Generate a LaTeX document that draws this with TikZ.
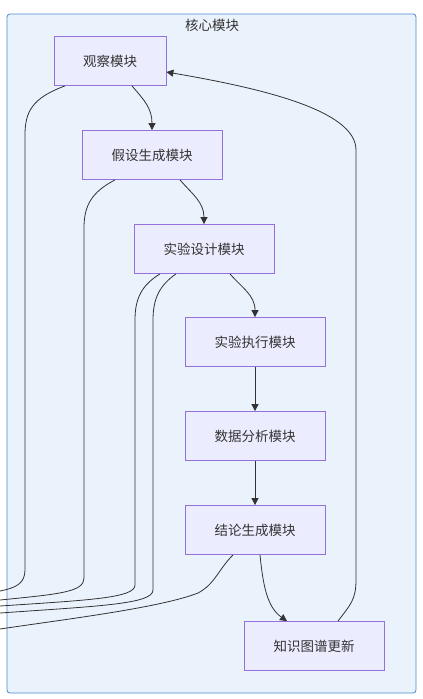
\documentclass[tikz,border=0pt]{standalone}
\usepackage{fontspec}
\setmainfont{Noto Sans CJK SC}
\usepackage{tikz}
\usetikzlibrary{arrows.meta}

\definecolor{clusterfill}{RGB}{234,242,251}
\definecolor{clusterdraw}{RGB}{74,138,207}
\definecolor{boxfill}{RGB}{236,236,255}
\definecolor{boxdraw}{RGB}{147,112,219}
\definecolor{textgray}{RGB}{51,51,51}

\tikzset{
  module/.style={draw=boxdraw, fill=boxfill, line width=0.8pt, minimum width=140pt,
    minimum height=49pt, inner sep=0pt, text=textgray, font=\fontsize{13.5}{16}\selectfont},
  edge/.style={draw=textgray, line width=0.8pt, -{Triangle[length=7pt,width=7pt]}},
  exitline/.style={draw=textgray, line width=0.8pt}
}

\begin{document}
\begin{tikzpicture}[x=1pt, y=-1pt]
\useasboundingbox (0,0) rectangle (423,699);

% Cluster: core modules
\filldraw[fill=clusterfill, draw=clusterdraw, line width=0.8pt, rounded corners=3pt] (7,14) rectangle (416,693);
\node[text=textgray, font=\fontsize{13.5}{16}\selectfont] (title) at (212,25) {核心模块};

% Modules
\node[module, minimum width=112pt] (obs) at (110,61) {观察模块};
\node[module] (hyp) at (152,155) {假设生成模块};
\node[module] (design) at (204,249) {实验设计模块};
\node[module] (run) at (255,342) {实验执行模块};
\node[module] (data) at (255,436) {数据分析模块};
\node[module] (concl) at (255,530) {结论生成模块};
\node[module] (kg) at (314,646) {知识图谱更新};

% Main chain
\draw[edge] ([xshift=22pt]obs.south) .. controls +(12,14) and +(0,-22) .. (hyp.north);
\draw[edge] ([xshift=28pt]hyp.south) .. controls +(12,14) and +(0,-22) .. (design.north);
\draw[edge] ([xshift=26pt]design.south) .. controls +(12,14) and +(0,-22) .. (run.north);
\draw[edge] (run) -- (data);
\draw[edge] (data) -- (concl);
\draw[edge] ([xshift=5pt]concl.south) .. controls +(3,30) and +(-20,-14) .. ([xshift=-27pt]kg.north);

% Feedback to observation
\draw[edge] ([xshift=24pt]kg.north) .. controls +(12,-16) and +(0,20) .. (356,580)
  -- (356,150) .. controls (356,110) and (260,88) .. (obs.east |- 0,72);

% Lines leaving the cluster
\coordinate (out1) at (0,591);
\coordinate (out2) at (0,600);
\coordinate (out3) at (0,606);
\coordinate (out4) at (0,613);
\coordinate (out5) at (0,629);
\draw[exitline] ([xshift=-45pt]obs.south) .. controls (32,98) and (25,112) .. (25,135)
  -- (25,570) .. controls (25,584) and (15,588) .. (out1);
\draw[exitline] ([xshift=-37pt]hyp.south) .. controls (92,192) and (84,205) .. (84,228)
  -- (84,578) .. controls (84,592) and (60,594) .. (out2);
\draw[exitline] ([xshift=-44pt]design.south) .. controls (142,285) and (135,298) .. (135,320)
  -- (135,585) .. controls (135,598) and (90,600) .. (out3);
\draw[exitline] ([xshift=-28pt]design.south) .. controls (160,285) and (153,298) .. (153,320)
  -- (153,590) .. controls (153,604) and (100,606) .. (out4);
\draw[exitline] ([xshift=-22pt]concl.south) .. controls (218,570) and (215,584) .. (198,593)
  .. controls (160,608) and (60,620) .. (out5);

\end{tikzpicture}
\end{document}
